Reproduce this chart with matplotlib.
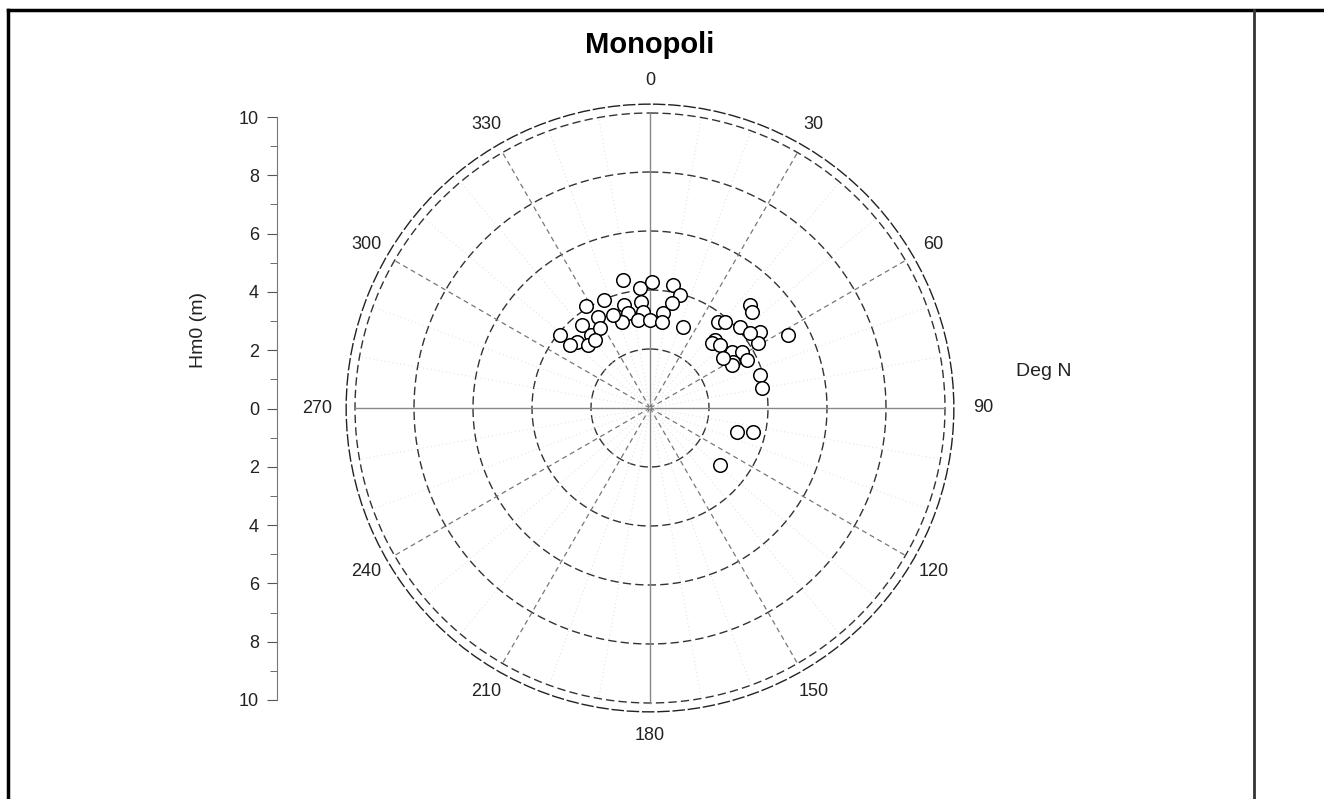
import matplotlib.pyplot as plt
import numpy as np

# wave direction (deg N, clockwise) and significant height Hm0 (m)
direction_deg = [348, 355, 1, 10.6, 14.9, 328, 337, 330, 346, 355,
                 347, 356, 342, 352, 0, 7.8, 11.8, 7.9, 22.2, 309,
                 321, 321, 328, 312, 315.5, 308, 321, 338, 44.2, 46.7,
                 38.3, 41.1, 48, 55.4, 62.1, 43.7, 43.6, 48, 59, 53.1,
                 55.7, 58.7, 61, 63.7, 62.3, 73.3, 79.9, 55.6, 105.4, 103.1,
                 129.2]
hm0_m = [4.44, 4.08, 4.27, 4.24, 3.96, 4.08, 3.97, 3.55, 3.59, 3.61,
         3.31, 3.26, 3.07, 3.02, 2.98, 3.25, 3.64, 2.94, 2.97, 3.93,
         3.64, 3.2, 3.2, 3.34, 3.0, 3.45, 2.97, 3.39, 4.87, 4.75,
         3.72, 3.87, 4.1, 4.53, 5.29, 3.19, 3.04, 3.19, 4.27, 4.24,
         3.37, 3.65, 3.22, 3.67, 3.14, 3.89, 3.86, 3.0, 3.06, 3.59,
         3.06]

angle_labels = [str(a) for a in range(0, 360, 30)]
rings = [2, 4, 6, 8, 10]
side_ticks = [-10, -8, -6, -4, -2, 0, 2, 4, 6, 8, 10]

plt.rcParams['font.family'] = ['Liberation Sans', 'DejaVu Sans']

W, H = 1324, 799
fig = plt.figure(figsize=(W / 100, H / 100), dpi=100)

# frame lines
fig.add_artist(plt.Line2D([8 / W, 8 / W], [0, 1 - 10 / H], color='black', lw=2.5))
fig.add_artist(plt.Line2D([8 / W, 1], [1 - 10 / H, 1 - 10 / H], color='black', lw=2.5))
fig.add_artist(plt.Line2D([1254 / W, 1254 / W], [0, 1 - 10 / H], color='#333333', lw=2))

# polar axes: centre (650, 408) px, 29.5 px per metre
rmax = 10.3
rad = rmax * 29.5
ax = fig.add_axes([(650 - rad) / W, (H - 408 - rad) / H, 2 * rad / W, 2 * rad / H],
                  projection='polar')
ax.set_theta_zero_location('N')
ax.set_theta_direction(-1)
ax.set_ylim(0, rmax)
ax.set_xticks([])
ax.set_yticks([])
ax.grid(False)
ax.spines['polar'].set_linestyle((0, (8, 3)))
ax.spines['polar'].set_linewidth(1.0)
ax.spines['polar'].set_color('#222222')

th = np.linspace(0, 2 * np.pi, 400)
for r in rings:
    ax.plot(th, np.full_like(th, r), color='#333333', lw=1.0, ls=(0, (6, 3)))

for a in range(0, 360, 10):
    t = np.deg2rad(a)
    if a % 90 == 0:
        ax.plot([t, t], [0, 10], color='#888888', lw=1.0)
    elif a % 30 == 0:
        ax.plot([t, t], [0, 10], color='#777777', lw=0.9, ls=(0, (4, 3)))
    else:
        ax.plot([t, t], [0, 10], color='#dddddd', lw=0.7, ls=(0, (1, 3)))

ax.scatter(np.deg2rad(direction_deg), hm0_m, s=95, facecolors='white',
           edgecolors='black', linewidths=1.1, zorder=5)

for a, lab in zip(range(0, 360, 30), angle_labels):
    rr = 11.3 if a % 180 == 90 else 11.1
    ax.text(np.deg2rad(a), rr, lab, ha='center', va='center', fontsize=13,
            color='#222222', clip_on=False)

fig.text(1016 / W, 1 - 372 / H, 'Deg N', ha='left', va='center', fontsize=14,
         color='#222222')
fig.text(650 / W, 1 - 45 / H, 'Monopoli', ha='center', va='center', fontsize=21,
         fontweight='bold')

# side height axis
side = fig.add_axes([277 / W, (H - 700) / H, 0.0005, 583 / H])
side.set_ylim(-10, 10)
side.set_xticks([])
for s in ['top', 'right', 'bottom']:
    side.spines[s].set_visible(False)
side.spines['left'].set_color('#777777')
side.set_yticks(side_ticks)
side.set_yticklabels([str(abs(v)) for v in side_ticks])
side.set_yticks(range(-9, 10, 2), minor=True)
side.tick_params(axis='y', which='major', length=7, labelsize=13, colors='#555555',
                 labelcolor='#222222', pad=6)
side.tick_params(axis='y', which='minor', length=5, colors='#555555')
side.set_ylabel('Hm0 (m)', fontsize=14, color='#222222')
side.yaxis.set_label_coords(-70 / 0.0005 / W, (700 - 330) / 583)
side.patch.set_alpha(0)

fig.savefig('out.png', dpi=100)
